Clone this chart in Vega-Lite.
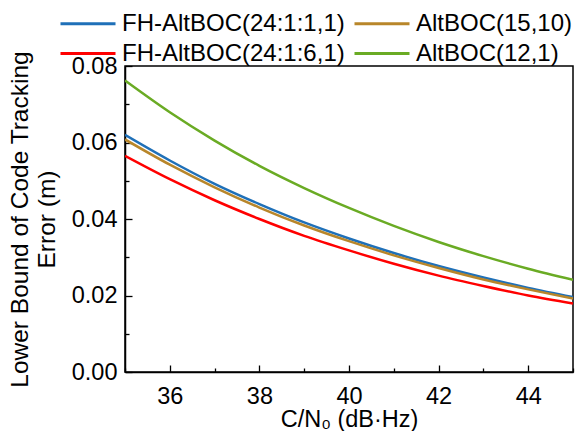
{
  "$schema": "https://vega.github.io/schema/vega-lite/v6.json",
  "width": 448,
  "height": 306,
  "autosize": {"type": "none"},
  "padding": {"left": 125, "top": 66, "right": 3, "bottom": 59},
  "background": "white",
  "config": {
    "font": "Liberation Sans",
    "view": {"stroke": "black", "strokeWidth": 1.5},
    "axis": {"grid": false, "domainColor": "black", "tickColor": "black", "labelColor": "black", "titleColor": "black", "labelFontSize": 23.5, "titleFontSize": 24.5, "titleFontWeight": "normal", "domainWidth": 1.5, "tickWidth": 1.3}
  },
  "data": {"values": [
    {"cn0": 35, "s": "FH-AltBOC(24:1:1,1)", "v": 0.0620},
    {"cn0": 36, "s": "FH-AltBOC(24:1:1,1)", "v": 0.0553},
    {"cn0": 37, "s": "FH-AltBOC(24:1:1,1)", "v": 0.0492},
    {"cn0": 38, "s": "FH-AltBOC(24:1:1,1)", "v": 0.0439},
    {"cn0": 39, "s": "FH-AltBOC(24:1:1,1)", "v": 0.0391},
    {"cn0": 40, "s": "FH-AltBOC(24:1:1,1)", "v": 0.0349},
    {"cn0": 41, "s": "FH-AltBOC(24:1:1,1)", "v": 0.0311},
    {"cn0": 42, "s": "FH-AltBOC(24:1:1,1)", "v": 0.0277},
    {"cn0": 43, "s": "FH-AltBOC(24:1:1,1)", "v": 0.0247},
    {"cn0": 44, "s": "FH-AltBOC(24:1:1,1)", "v": 0.0220},
    {"cn0": 45, "s": "FH-AltBOC(24:1:1,1)", "v": 0.0196},
    {"cn0": 35, "s": "FH-AltBOC(24:1:6,1)", "v": 0.0565},
    {"cn0": 36, "s": "FH-AltBOC(24:1:6,1)", "v": 0.0504},
    {"cn0": 37, "s": "FH-AltBOC(24:1:6,1)", "v": 0.0449},
    {"cn0": 38, "s": "FH-AltBOC(24:1:6,1)", "v": 0.0400},
    {"cn0": 39, "s": "FH-AltBOC(24:1:6,1)", "v": 0.0356},
    {"cn0": 40, "s": "FH-AltBOC(24:1:6,1)", "v": 0.0318},
    {"cn0": 41, "s": "FH-AltBOC(24:1:6,1)", "v": 0.0283},
    {"cn0": 42, "s": "FH-AltBOC(24:1:6,1)", "v": 0.0252},
    {"cn0": 43, "s": "FH-AltBOC(24:1:6,1)", "v": 0.0225},
    {"cn0": 44, "s": "FH-AltBOC(24:1:6,1)", "v": 0.0200},
    {"cn0": 45, "s": "FH-AltBOC(24:1:6,1)", "v": 0.0179},
    {"cn0": 35, "s": "AltBOC(15,10)", "v": 0.0608},
    {"cn0": 36, "s": "AltBOC(15,10)", "v": 0.0542},
    {"cn0": 37, "s": "AltBOC(15,10)", "v": 0.0483},
    {"cn0": 38, "s": "AltBOC(15,10)", "v": 0.0430},
    {"cn0": 39, "s": "AltBOC(15,10)", "v": 0.0383},
    {"cn0": 40, "s": "AltBOC(15,10)", "v": 0.0342},
    {"cn0": 41, "s": "AltBOC(15,10)", "v": 0.0305},
    {"cn0": 42, "s": "AltBOC(15,10)", "v": 0.0272},
    {"cn0": 43, "s": "AltBOC(15,10)", "v": 0.0242},
    {"cn0": 44, "s": "AltBOC(15,10)", "v": 0.0216},
    {"cn0": 45, "s": "AltBOC(15,10)", "v": 0.0192},
    {"cn0": 35, "s": "AltBOC(12,1)", "v": 0.0762},
    {"cn0": 36, "s": "AltBOC(12,1)", "v": 0.0679},
    {"cn0": 37, "s": "AltBOC(12,1)", "v": 0.0605},
    {"cn0": 38, "s": "AltBOC(12,1)", "v": 0.0539},
    {"cn0": 39, "s": "AltBOC(12,1)", "v": 0.0481},
    {"cn0": 40, "s": "AltBOC(12,1)", "v": 0.0429},
    {"cn0": 41, "s": "AltBOC(12,1)", "v": 0.0382},
    {"cn0": 42, "s": "AltBOC(12,1)", "v": 0.0340},
    {"cn0": 43, "s": "AltBOC(12,1)", "v": 0.0303},
    {"cn0": 44, "s": "AltBOC(12,1)", "v": 0.0270},
    {"cn0": 45, "s": "AltBOC(12,1)", "v": 0.0241}
  ]},
  "resolve": {"axis": {"x": "independent", "y": "independent"}},
  "layer": [
    {
      "mark": {"type": "line", "strokeWidth": 2.5, "interpolate": "monotone", "clip": true},
      "encoding": {
        "x": {"field": "cn0", "type": "quantitative", "scale": {"domain": [35, 45], "nice": false},
          "axis": {"orient": "bottom", "values": [36, 38, 40, 42, 44], "tickSize": -7, "labelPadding": 19, "title": "C/N₀ (dB·Hz)", "titleFontSize": 23.5, "titlePadding": 0}},
        "y": {"field": "v", "type": "quantitative", "scale": {"domain": [0, 0.08], "nice": false},
          "axis": {"orient": "left", "values": [0, 0.02, 0.04, 0.06, 0.08], "format": ".2f", "tickSize": -7, "labelPadding": 15, "title": ["Lower Bound of Code Tracking", "Error (m)"], "titlePadding": 12, "titleLineHeight": 27}},
        "color": {"field": "s", "type": "nominal",
          "scale": {"domain": ["FH-AltBOC(24:1:1,1)", "AltBOC(15,10)", "FH-AltBOC(24:1:6,1)", "AltBOC(12,1)"], "range": ["#1f70b8", "#b8862a", "#ff0000", "#6aab24"]},
          "legend": {"orient": "none", "legendX": -66, "legendY": -55, "direction": "horizontal", "columns": 2, "title": null,
            "symbolType": "M-1,0H4", "symbolSize": 484, "symbolStrokeWidth": 3, "labelOffset": 38, "labelFontSize": 24, "labelColor": "black", "columnPadding": 3, "rowPadding": 5, "padding": 0, "labelLimit": 400}}
      }
    },
    {
      "mark": {"type": "line", "opacity": 0},
      "encoding": {
        "x": {"field": "cn0", "type": "quantitative", "scale": {"domain": [35, 45], "nice": false},
          "axis": {"orient": "bottom", "values": [35, 37, 39, 41, 43, 45], "tickSize": -4, "labels": false, "domain": false, "title": null}},
        "y": {"field": "v", "type": "quantitative", "scale": {"domain": [0, 0.08], "nice": false},
          "axis": {"orient": "left", "values": [0.01, 0.03, 0.05, 0.07], "tickSize": -4, "labels": false, "domain": false, "title": null}}
      }
    }
  ]
}
